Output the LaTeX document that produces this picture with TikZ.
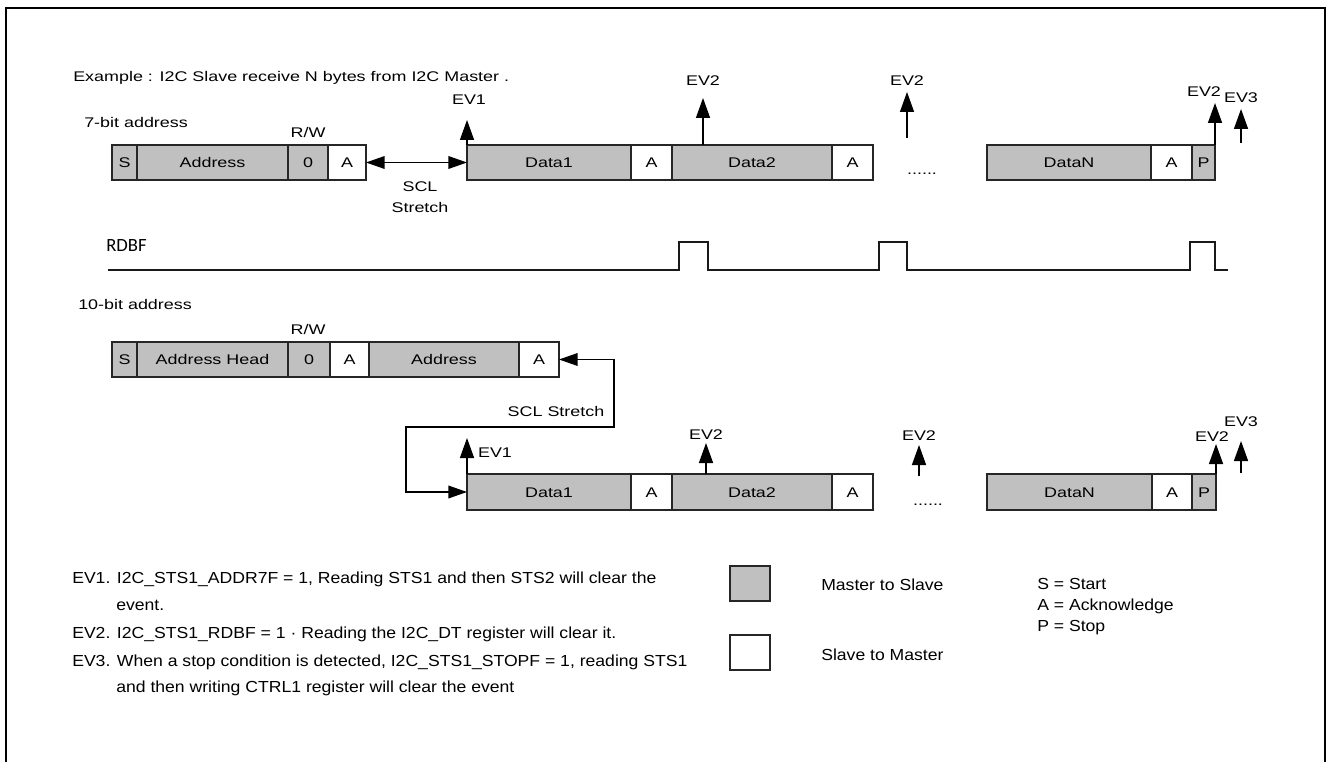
\documentclass[tikz,border=0pt]{standalone}
\usepackage{fontspec}
\setmainfont{Liberation Sans}
\newfontfamily\diafont[FakeStretch=1.28]{Liberation Sans}
\newfontfamily\legfont[FakeStretch=1.1]{Liberation Sans}
\newfontfamily\rdbffont{Carlito}
\usetikzlibrary{arrows.meta}
\definecolor{boxgray}{RGB}{192,192,192}
\newcommand\cell[7]{\node[cellbox,fill=#6,minimum width={(#3-#2)*0.75pt},minimum height={(#5-#4)*0.75pt}] (#1) at ({(#2+#3)/2},{(#4+#5)/2}) {#7};}
\tikzset{
  cellbox/.style={draw=black!85, line width=0.8pt, inner sep=0pt, outer sep=0pt,
    font=\diafont\fontsize{10.5}{12}\selectfont, text height=7.5pt, text depth=0pt},
  dia/.style={inner sep=0pt, font=\diafont\fontsize{10.5}{12}\selectfont, text height=7.5pt, text depth=0pt},
  leg/.style={inner sep=0pt, anchor=west, font=\legfont\fontsize{12}{14}\selectfont, text height=8.6pt, text depth=0pt},
  evarr/.style={-{Triangle[length=15pt,width=10.5pt]}, line width=1.1pt},
  dblarr/.style={{Triangle[length=14pt,width=9.5pt]}-{Triangle[length=14pt,width=9.5pt]}, line width=1.1pt},
  wave/.style={line width=1.1pt, black!90}
}
\begin{document}
\begin{tikzpicture}[x=0.75pt,y=-0.75pt]
\useasboundingbox (0,0) rectangle (1333,762);
\clip (0,0) rectangle (1333,762);
% frame
\draw[line width=1.8pt] (6,780) -- (6,8) -- (1325,8) -- (1325,780);

% titles
\node[dia,anchor=west] (title) at (73,77) {Example : I2C Slave receive N bytes from I2C Master .};
\node[dia,anchor=west] (sevenbit) at (84,123) {7-bit address};
\node[dia] (rw1) at (308,133) {R/W};

% row 1
\cell{r1s}{112}{137}{145}{180}{boxgray}{S}
\cell{r1addr}{137}{288}{145}{180}{boxgray}{Address}
\cell{r1rw}{288}{328}{145}{180}{boxgray}{0}
\cell{r1a1}{328}{366}{145}{180}{white}{A}
\cell{r1d1}{467}{631}{145}{180}{boxgray}{Data1}
\cell{r1a2}{631}{672}{145}{180}{white}{A}
\cell{r1d2}{672}{832}{145}{180}{boxgray}{Data2}
\cell{r1a3}{832}{873}{145}{180}{white}{A}
\cell{r1dn}{987}{1151}{145}{180}{boxgray}{DataN}
\cell{r1a4}{1151}{1192}{145}{180}{white}{A}
\cell{r1p}{1192}{1215}{145}{180}{boxgray}{P}
\node[dia,anchor=base] (dots1) at (922,175) {......};

% SCL stretch row 1
\draw[dblarr] (r1a1.east) -- (r1d1.west);
\node[dia] (scl1) at (420,187) {SCL};
\node[dia] (str1) at (420,208) {Stretch};

% events row 1
\coordinate (t1ev1) at (467,120);
\coordinate (t1ev2) at (703,98);
\coordinate (t1f2t) at (907,92);
\coordinate (t1f2b) at (907,138);
\coordinate (t1ev2n) at (1215,103);
\coordinate (t1ev3t) at (1241,109);
\coordinate (t1ev3b) at (1241,143);
\draw[evarr] (r1d1.north west) -- (t1ev1);
\draw[evarr] (t1ev2 |- r1d2.north) -- (t1ev2);
\draw[evarr] (t1f2b) -- (t1f2t);
\draw[evarr] (r1p.north east) -- (t1ev2n);
\draw[evarr] (t1ev3b) -- (t1ev3t);
\node[dia] (l1ev1) at (469,100) {EV1};
\node[dia] (l1ev2) at (703,81) {EV2};
\node[dia] (l1f2) at (907,81) {EV2};
\node[dia] (l1ev2n) at (1204,92) {EV2};
\node[dia] (l1ev3) at (1241,98) {EV3};

% RDBF
\node[inner sep=0pt,anchor=west,font=\rdbffont\fontsize{14}{16}\selectfont] (rdbf) at (106,246) {RDBF};
\draw[wave] (108,270) -- (679,270) -- (679,242) -- (708,242) -- (708,270)
  -- (879,270) -- (879,242) -- (907,242) -- (907,270)
  -- (1190,270) -- (1190,242) -- (1215,242) -- (1215,270) -- (1228,270);

% row 2
\node[dia,anchor=west] (tenbit) at (78,305) {10-bit address};
\node[dia] (rw2) at (308,330) {R/W};
\cell{r2s}{112}{137}{342}{377}{boxgray}{S}
\cell{r2head}{137}{288}{342}{377}{boxgray}{Address Head}
\cell{r2rw}{288}{330}{342}{377}{boxgray}{0}
\cell{r2a1}{330}{369}{342}{377}{white}{A}
\cell{r2addr}{369}{519}{342}{377}{boxgray}{Address}
\cell{r2a2}{519}{559}{342}{377}{white}{A}

% row 3
\cell{r3d1}{467}{631}{474}{510}{boxgray}{Data1}
\cell{r3a1}{631}{672}{474}{510}{white}{A}
\cell{r3d2}{672}{832}{474}{510}{boxgray}{Data2}
\cell{r3a2}{832}{873}{474}{510}{white}{A}
\cell{r3dn}{987}{1152}{474}{510}{boxgray}{DataN}
\cell{r3a3}{1152}{1192}{474}{510}{white}{A}
\cell{r3p}{1192}{1216}{474}{510}{boxgray}{P}
\node[dia,anchor=base] (dots3) at (928,505) {......};

% SCL stretch connector
\coordinate (c1) at (614,427);
\coordinate (c2) at (406,427);
\draw[dblarr] (r2a2.east) -| (c1) -- (c2) |- (r3d1.west);
\node[dia] (scl2) at (556,411) {SCL Stretch};

% events row 3
\coordinate (t3ev1) at (467,438);
\coordinate (t3ev2) at (706,443);
\coordinate (t3f2t) at (919,445);
\coordinate (t3f2b) at (919,476);
\coordinate (t3ev2n) at (1216,444);
\coordinate (t3ev3t) at (1241,441);
\coordinate (t3ev3b) at (1241,473);
\draw[evarr] (r3d1.north west) -- (t3ev1);
\draw[evarr] (t3ev2 |- r3d2.north) -- (t3ev2);
\draw[evarr] (t3f2b) -- (t3f2t);
\draw[evarr] (r3p.north east) -- (t3ev2n);
\draw[evarr] (t3ev3b) -- (t3ev3t);
\node[dia] (l3ev1) at (495,452) {EV1};
\node[dia] (l3ev2) at (706,434) {EV2};
\node[dia] (l3f2) at (919,435) {EV2};
\node[dia] (l3ev2n) at (1212,436) {EV2};
\node[dia] (l3ev3) at (1241,421) {EV3};

% legend text
\node[leg] (n1a) at (72,578) {EV1. I2C\_STS1\_ADDR7F = 1, Reading STS1 and then STS2 will clear the};
\node[leg] (n1b) at (116,605) {event.};
\node[leg] (n2) at (72,633) {EV2. I2C\_STS1\_RDBF = 1 · Reading the I2C\_DT register will clear it.};
\node[leg] (n3a) at (72,661) {EV3. When a stop condition is detected, I2C\_STS1\_STOPF = 1, reading STS1};
\node[leg] (n3b) at (116,687) {and then writing CTRL1 register will clear the event};

% legend boxes
\cell{lgm}{730}{770}{566}{601}{boxgray}{}
\cell{lgs}{730}{770}{635}{670}{white}{}
\node[leg] (lm) at (821,585) {Master to Slave};
\node[leg] (ls) at (821,655) {Slave to Master};
\node[leg] (ks) at (1037,584) {S = Start};
\node[leg] (ka) at (1037,605) {A = Acknowledge};
\node[leg] (kp) at (1037,626) {P = Stop};
\end{tikzpicture}
\end{document}
